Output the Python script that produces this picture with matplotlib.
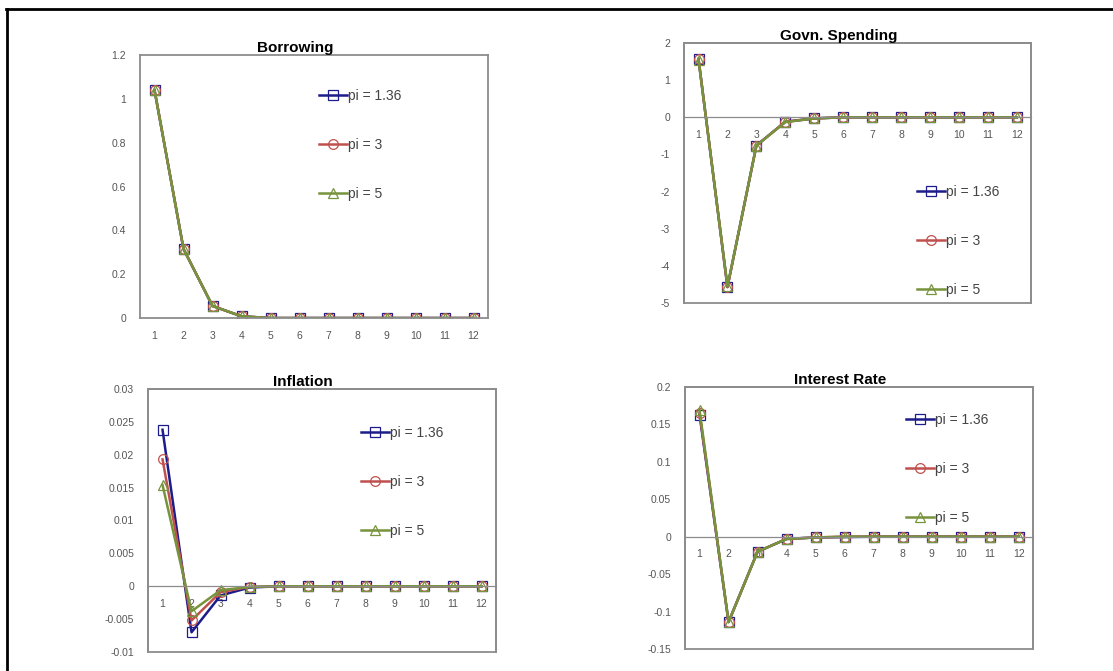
import matplotlib
matplotlib.use("Agg")
import matplotlib.pyplot as plt
from matplotlib.lines import Line2D
from matplotlib.patches import Rectangle

plt.rcParams['font.family'] = ['Liberation Sans', 'DejaVu Sans']

periods = list(range(1, 13))
labels = ["pi = 1.36", "pi = 3", "pi = 5"]
colors = ["#1c1c8a", "#c0504d", "#77933c"]
markers = ["s", "o", "^"]

# impulse responses, one list per pi value
borrowing = [
    [1.04, 0.315, 0.055, 0.008, 0, 0, 0, 0, 0, 0, 0, 0],
    [1.04, 0.315, 0.055, 0.008, 0, 0, 0, 0, 0, 0, 0, 0],
    [1.04, 0.315, 0.055, 0.008, 0, 0, 0, 0, 0, 0, 0, 0],
]
govn_spending = [
    [1.57, -4.57, -0.76, -0.12, -0.03, 0, 0, 0, 0, 0, 0, 0],
    [1.57, -4.57, -0.76, -0.12, -0.03, 0, 0, 0, 0, 0, 0, 0],
    [1.55, -4.55, -0.76, -0.13, -0.03, 0, 0, 0, 0, 0, 0, 0],
]
inflation = [
    [0.0238, -0.0070, -0.0014, -0.0002, 0, 0, 0, 0, 0, 0, 0, 0],
    [0.0193, -0.0052, -0.0009, -0.0001, 0, 0, 0, 0, 0, 0, 0, 0],
    [0.0154, -0.0038, -0.0006, -0.0001, 0, 0, 0, 0, 0, 0, 0, 0],
]
interest_rate = [
    [0.163, -0.114, -0.020, -0.003, -0.001, -0.0005, 0, 0, 0, 0, 0, 0],
    [0.165, -0.114, -0.020, -0.003, -0.001, 0, 0, 0, 0, 0, 0, 0],
    [0.169, -0.114, -0.020, -0.003, -0.001, 0, 0, 0, 0, 0, 0, 0],
]

panels = [
    ("Borrowing", borrowing, [0, 0.2, 0.4, 0.6, 0.8, 1, 1.2],
     ["0", "0.2", "0.4", "0.6", "0.8", "1", "1.2"],
     [0.1258, 0.526, 0.3127, 0.392], (0.514, 0.87), False),
    ("Govn. Spending", govn_spending, [-5, -4, -3, -2, -1, 0, 1, 2],
     ["-5", "-4", "-3", "-2", "-1", "0", "1", "2"],
     [0.6146, 0.5484, 0.312, 0.3875], (0.671, 0.453), True),
    ("Inflation", inflation,
     [-0.01, -0.005, 0, 0.005, 0.01, 0.015, 0.02, 0.025, 0.03],
     ["-0.01", "-0.005", "0", "0.005", "0.01", "0.015", "0.02", "0.025", "0.03"],
     [0.133, 0.0283, 0.3127, 0.392], (0.612, 0.858), True),
    ("Interest Rate", interest_rate,
     [-0.15, -0.1, -0.05, 0, 0.05, 0.1, 0.15, 0.2],
     ["-0.15", "-0.1", "-0.05", "0", "0.05", "0.1", "0.15", "0.2"],
     [0.6155, 0.0328, 0.3127, 0.3905], (0.635, 0.9), True),
]

fig = plt.figure(figsize=(11.13, 6.71), dpi=100)

for title, series, yticks, yticklabels, pos, leg_xy, zero_axis in panels:
    ax = fig.add_axes(pos)
    for vals, lab, col, mk in zip(series, labels, colors, markers):
        ax.plot(periods, vals, color=col, lw=1.8, marker=mk, markersize=7,
                mfc="none", mec=col, mew=0.9, label=lab)
    ax.set_xlim(0.5, 12.5)
    ax.set_ylim(yticks[0], yticks[-1])
    ax.set_yticks(yticks)
    ax.set_yticklabels(yticklabels)
    ax.set_xticks(periods)
    ax.set_xticklabels([str(p) for p in periods])
    ax.tick_params(length=0, labelsize=7.5, colors="#555555")
    ax.tick_params(axis="y", pad=10)
    ax.tick_params(axis="x", pad=9)
    for s in ax.spines.values():
        s.set_color("#8c8c8c")
        s.set_linewidth(1.3)
    if zero_axis:
        # category axis crosses at zero, keep the plot-area frame too
        ax.spines["bottom"].set_position(("data", 0))
        ax.spines["bottom"].set_linewidth(0.9)
        ax.add_patch(Rectangle((0, 0), 1, 1, transform=ax.transAxes, fill=False,
                               edgecolor="#8c8c8c", lw=1.3, clip_on=False))
    ax.set_title(title, fontsize=11, fontweight="bold", x=0.445, pad=0.5)
    leg = ax.legend(loc="upper left", bbox_to_anchor=leg_xy, frameon=False,
                    fontsize=10, handlelength=2.0, handletextpad=0.1,
                    labelspacing=2.5, borderpad=0, borderaxespad=0)
    for t in leg.get_texts():
        t.set_color("#444444")

# page frame (top and left rule)
fig.add_artist(Line2D([0.0054, 1.0], [0.9866, 0.9866], color="black", lw=2))
fig.add_artist(Line2D([0.0063, 0.0063], [0.0, 0.9866], color="black", lw=2))

fig.savefig("out.png", dpi=100)
